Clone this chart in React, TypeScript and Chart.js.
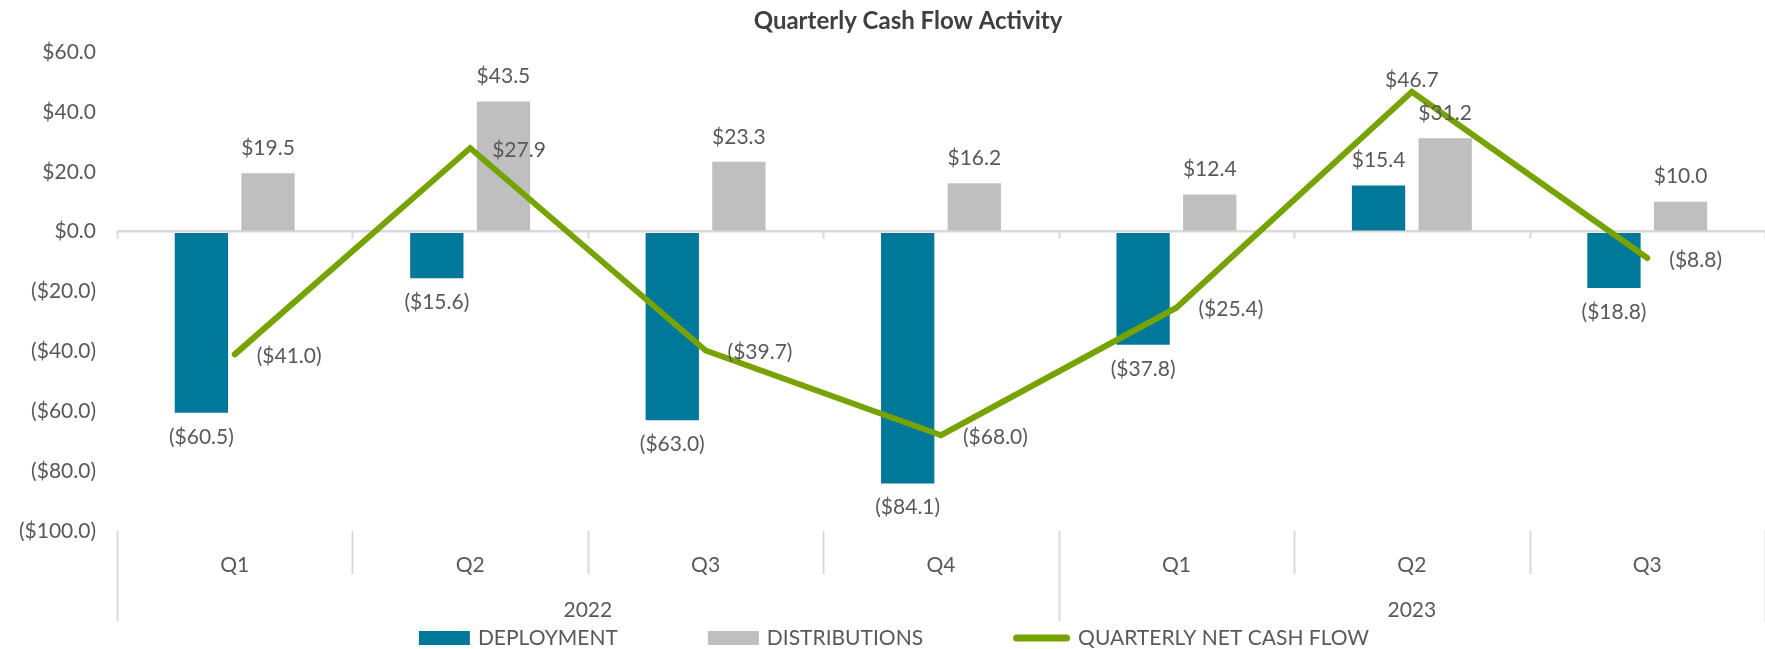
import React, { useEffect, useRef } from 'react';
import { Chart, registerables } from 'chart.js';

Chart.register(...registerables);

// ---- Data ----
const quarters = ['Q1', 'Q2', 'Q3', 'Q4', 'Q1', 'Q2', 'Q3'];
const years = ['2022', '2023'];
const yearSpans = [4, 3];
const deployment = [-60.5, -15.6, -63.0, -84.1, -37.8, 15.4, -18.8];
const distributions = [19.5, 43.5, 23.3, 16.2, 12.4, 31.2, 10.0];
const netCashFlow = [-41.0, 27.9, -39.7, -68.0, -25.4, 46.7, -8.8];
const yTicks = [60, 40, 20, 0, -20, -40, -60, -80, -100];
const titleText = 'Quarterly Cash Flow Activity';

// ---- Styles ----
const FONT = 'Lato, "Open Sans", sans-serif';
const TEXT = '#595959';
const AXIS_GRAY = '#D9D9D9';
const C_DEPLOY = '#00789A';
const C_DIST = '#BFBFBF';
const C_NET = '#77A300';
const FS = 21;

const fmt = (v: number) => (v < 0 ? `($${Math.abs(v).toFixed(1)})` : `$${v.toFixed(1)}`);

const decorPlugin = {
  id: 'decor',
  beforeDatasetsDraw(chart: any) {
    const { ctx, chartArea, scales } = chart;
    const x = scales.x;
    const y = scales.y;
    const n = quarters.length;
    const catW = (x.right - x.left) / n;
    const y0 = y.getPixelForValue(0);
    ctx.save();
    ctx.strokeStyle = AXIS_GRAY;
    ctx.lineWidth = 2;
    // tick marks under zero line at category boundaries
    for (let i = 0; i <= n; i++) {
      const bx = Math.round(x.left + i * catW) + 0.5;
      ctx.beginPath();
      ctx.moveTo(bx, y0);
      ctx.lineTo(bx, y0 + 7);
      ctx.stroke();
    }
    // separators in the category axis area
    const yearBounds = new Set<number>();
    let acc = 0;
    yearBounds.add(0);
    yearSpans.forEach((s) => {
      acc += s;
      yearBounds.add(acc);
    });
    const top = chartArea.bottom;
    for (let i = 0; i <= n; i++) {
      const bx = Math.round(x.left + i * catW) + 0.5;
      const long = yearBounds.has(i);
      ctx.beginPath();
      ctx.moveTo(bx, top);
      ctx.lineTo(bx, top + (long ? 90 : 43));
      ctx.stroke();
    }
    // year labels
    ctx.fillStyle = TEXT;
    ctx.font = `${FS}px ${FONT}`;
    ctx.textAlign = 'center';
    ctx.textBaseline = 'middle';
    let start = 0;
    years.forEach((yr, k) => {
      const end = start + yearSpans[k];
      const cx = x.left + ((start + end) / 2) * catW;
      ctx.fillText(yr, cx, top + 79);
      start = end;
    });
    ctx.restore();
  },
  afterDatasetsDraw(chart: any) {
    const { ctx } = chart;
    ctx.save();
    ctx.font = `${FS}px ${FONT}`;
    ctx.fillStyle = TEXT;
    ctx.textBaseline = 'middle';
    chart.data.datasets.forEach((ds: any, di: number) => {
      const meta = chart.getDatasetMeta(di);
      const vals = ds.data as number[];
      const maxV = Math.max(...vals);
      meta.data.forEach((el: any, i: number) => {
        const v = vals[i];
        const txt = fmt(v);
        if (ds.type === 'line') {
          if (v === maxV) {
            ctx.textAlign = 'center';
            ctx.fillText(txt, el.x, el.y - 12);
          } else {
            ctx.textAlign = 'left';
            ctx.fillText(txt, el.x + 22, el.y + 2);
          }
        } else {
          ctx.textAlign = 'center';
          ctx.fillText(txt, el.x, v >= 0 ? el.y - 25 : el.y + 24);
        }
      });
    });
    ctx.restore();
  },
  afterDraw(chart: any) {
    const { ctx } = chart;
    ctx.save();
    // title
    ctx.font = `bold 24px ${FONT}`;
    ctx.fillStyle = '#404040';
    ctx.textAlign = 'center';
    ctx.textBaseline = 'middle';
    ctx.fillText(titleText, 908, 21);
    // legend
    ctx.font = `${FS}px ${FONT}`;
    const items = chart.data.datasets.map((ds: any) => ({
      label: ds.label,
      color: ds.type === 'line' ? ds.borderColor : ds.backgroundColor,
      line: ds.type === 'line',
    }));
    const gapText = 8;
    const gapItem = 90;
    const widths = items.map((it: any) => (it.line ? 57 : 51) + gapText + ctx.measureText(it.label).width);
    const total = widths.reduce((a: number, b: number) => a + b, 0) + gapItem * (items.length - 1);
    let lx = 894 - total / 2;
    const ly = 638;
    ctx.textAlign = 'left';
    ctx.textBaseline = 'middle';
    items.forEach((it: any, k: number) => {
      const mw = it.line ? 57 : 51;
      if (it.line) {
        ctx.strokeStyle = it.color;
        ctx.lineWidth = 7;
        ctx.lineCap = 'round';
        ctx.beginPath();
        ctx.moveTo(lx + 3.5, ly);
        ctx.lineTo(lx + mw - 3.5, ly);
        ctx.stroke();
      } else {
        ctx.fillStyle = it.color;
        ctx.fillRect(lx, ly - 7, mw, 14);
      }
      ctx.fillStyle = TEXT;
      ctx.fillText(it.label, lx + mw + gapText, ly);
      lx += widths[k] + gapItem;
    });
    ctx.restore();
  },
};

export default function App() {
  const ref = useRef<HTMLCanvasElement | null>(null);
  useEffect(() => {
    if (!ref.current) return;
    const chart = new Chart(ref.current, {
      type: 'bar',
      data: {
        labels: quarters,
        datasets: [
          {
            type: 'bar',
            label: 'DEPLOYMENT',
            data: deployment,
            backgroundColor: C_DEPLOY,
            borderWidth: 0,
            categoryPercentage: 0.566,
            barPercentage: 0.8,
            order: 1,
          },
          {
            type: 'bar',
            label: 'DISTRIBUTIONS',
            data: distributions,
            backgroundColor: C_DIST,
            borderWidth: 0,
            categoryPercentage: 0.566,
            barPercentage: 0.8,
            order: 1,
          },
          {
            type: 'line',
            label: 'QUARTERLY NET CASH FLOW',
            data: netCashFlow,
            borderColor: C_NET,
            backgroundColor: C_NET,
            borderWidth: 6,
            borderCapStyle: 'round',
            borderJoinStyle: 'miter',
            pointRadius: 0,
            pointHoverRadius: 0,
            tension: 0,
            fill: false,
            order: 0,
          },
        ] as any,
      },
      options: {
        responsive: false,
        animation: false,
        devicePixelRatio: 1,
        layout: { padding: { top: 52, right: -8, bottom: 0, left: 0 } },
        plugins: {
          legend: { display: false },
          title: { display: false },
          tooltip: { enabled: false },
        },
        scales: {
          x: {
            type: 'category',
            offset: true,
            grid: { display: false },
            border: { display: false },
            ticks: {
              color: TEXT,
              font: { family: FONT, size: FS },
              padding: 14,
              maxRotation: 0,
              autoSkip: false,
            },
            afterFit: (s: any) => {
              s.height = 118;
            },
          },
          y: {
            min: Math.min(...yTicks),
            max: Math.max(...yTicks),
            ticks: {
              stepSize: 20,
              color: TEXT,
              font: { family: FONT, size: FS },
              padding: 21,
              callback: (v: any) => fmt(Number(v)),
            },
            grid: {
              drawTicks: false,
              color: (c: any) => (c.tick && c.tick.value === 0 ? AXIS_GRAY : 'rgba(0,0,0,0)'),
              lineWidth: 2.5,
            },
            border: { display: false },
            afterFit: (s: any) => {
              s.width = 117;
            },
          },
        },
      },
      plugins: [decorPlugin],
    });
    return () => chart.destroy();
  }, []);
  return (
    <div style={{ position: 'fixed', left: 0, top: 0, width: 1765, height: 649, overflow: 'hidden', background: '#fff' }}>
      <canvas ref={ref} width={1765} height={649} style={{ display: 'block' }} />
    </div>
  );
}
